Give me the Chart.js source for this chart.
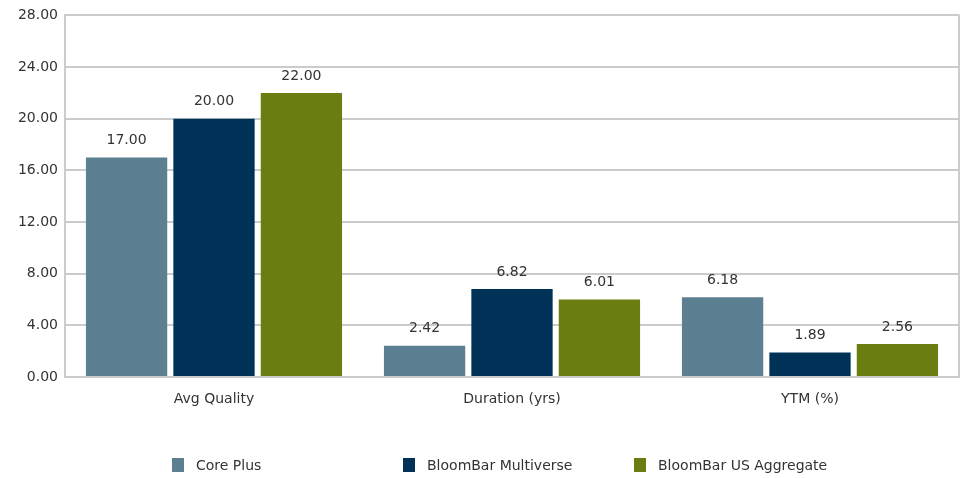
<!DOCTYPE html>
<html lang="en">
<head>
<meta charset="UTF-8">
<title>Portfolio Characteristics</title>
<script src="https://cdn.jsdelivr.net/npm/chart.js"></script>
<style>
    body { margin: 0; padding: 0; background: #fff; font-family: "DejaVu Sans", sans-serif; }
    .wrap { position: relative; width: 968px; height: 478px; }
    canvas { display: block; }
    .legend {
        position: absolute; left: 172px; top: 457px;
        display: flex; font-size: 14px; color: #333;
    }
    .legend .item { width: 231px; display: flex; align-items: center; }
    .legend .box { width: 12px; height: 14px; margin-right: 12px; }
</style>
</head>
<body>
<div class="wrap">
    <canvas id="chart" width="968" height="478"></canvas>
    <div class="legend" id="legend"></div>
</div>
<script>
// chart data
const categories = ['Avg Quality', 'Duration (yrs)', 'YTM (%)'];
const seriesNames = ['Core Plus', 'BloomBar Multiverse', 'BloomBar US Aggregate'];
const corePlus = [17.00, 2.42, 6.18];
const multiverse = [20.00, 6.82, 1.89];
const usAggregate = [22.00, 6.01, 2.56];
const colors = ['#5d7f92', '#003258', '#6a7d11'];

// right border of the plot box + values printed above each bar
const barLabels = {
    id: 'barLabels',
    beforeDatasetsDraw(chart) {
        const a = chart.chartArea;
        const ctx = chart.ctx;
        ctx.save();
        ctx.strokeStyle = '#cbcbcb';
        ctx.lineWidth = 2;
        ctx.beginPath();
        ctx.moveTo(a.right, a.top - 1);
        ctx.lineTo(a.right, a.bottom + 1);
        ctx.stroke();
        ctx.restore();
    },
    afterDatasetsDraw(chart) {
        const ctx = chart.ctx;
        ctx.save();
        ctx.font = '14px "DejaVu Sans", sans-serif';
        ctx.fillStyle = '#333';
        ctx.textAlign = 'center';
        ctx.textBaseline = 'bottom';
        chart.data.datasets.forEach((ds, i) => {
            chart.getDatasetMeta(i).data.forEach((bar, j) => {
                ctx.fillText(ds.data[j].toFixed(2), bar.x, bar.y - 10);
            });
        });
        ctx.restore();
    }
};

const ctx = document.getElementById('chart').getContext('2d');
new Chart(ctx, {
    type: 'bar',
    data: {
        labels: categories,
        datasets: [
            { label: seriesNames[0], data: corePlus, backgroundColor: colors[0] },
            { label: seriesNames[1], data: multiverse, backgroundColor: colors[1] },
            { label: seriesNames[2], data: usAggregate, backgroundColor: colors[2] }
        ]
    },
    options: {
        responsive: false,
        animation: false,
        categoryPercentage: 0.88,
        barPercentage: 0.93,
        layout: { padding: { top: 11, right: 9, left: 0, bottom: 0 } },
        plugins: {
            legend: { display: false },
            tooltip: { enabled: false }
        },
        scales: {
            x: {
                grid: { display: false },
                border: { display: false },
                ticks: { color: '#333', font: { size: 14, family: '"DejaVu Sans", sans-serif' }, padding: 6 },
                afterFit(scale) { scale.height = 101; }
            },
            y: {
                min: 0, max: 28,
                ticks: {
                    stepSize: 4,
                    color: '#333',
                    padding: 7,
                    font: { size: 14, family: '"DejaVu Sans", sans-serif' },
                    callback: v => v.toFixed(2)
                },
                grid: { color: '#cbcbcb', lineWidth: 2, drawTicks: false },
                border: { display: true, color: '#cbcbcb', width: 2 },
                afterFit(scale) { scale.width = 65; }
            }
        }
    },
    plugins: [barLabels]
});

// legend below the chart, evenly spaced
const legend = document.getElementById('legend');
seriesNames.forEach((name, i) => {
    const item = document.createElement('div');
    item.className = 'item';
    item.innerHTML = '<span class="box" style="background:' + colors[i] + '"></span><span>' + name + '</span>';
    legend.appendChild(item);
});
</script>
</body>
</html>
